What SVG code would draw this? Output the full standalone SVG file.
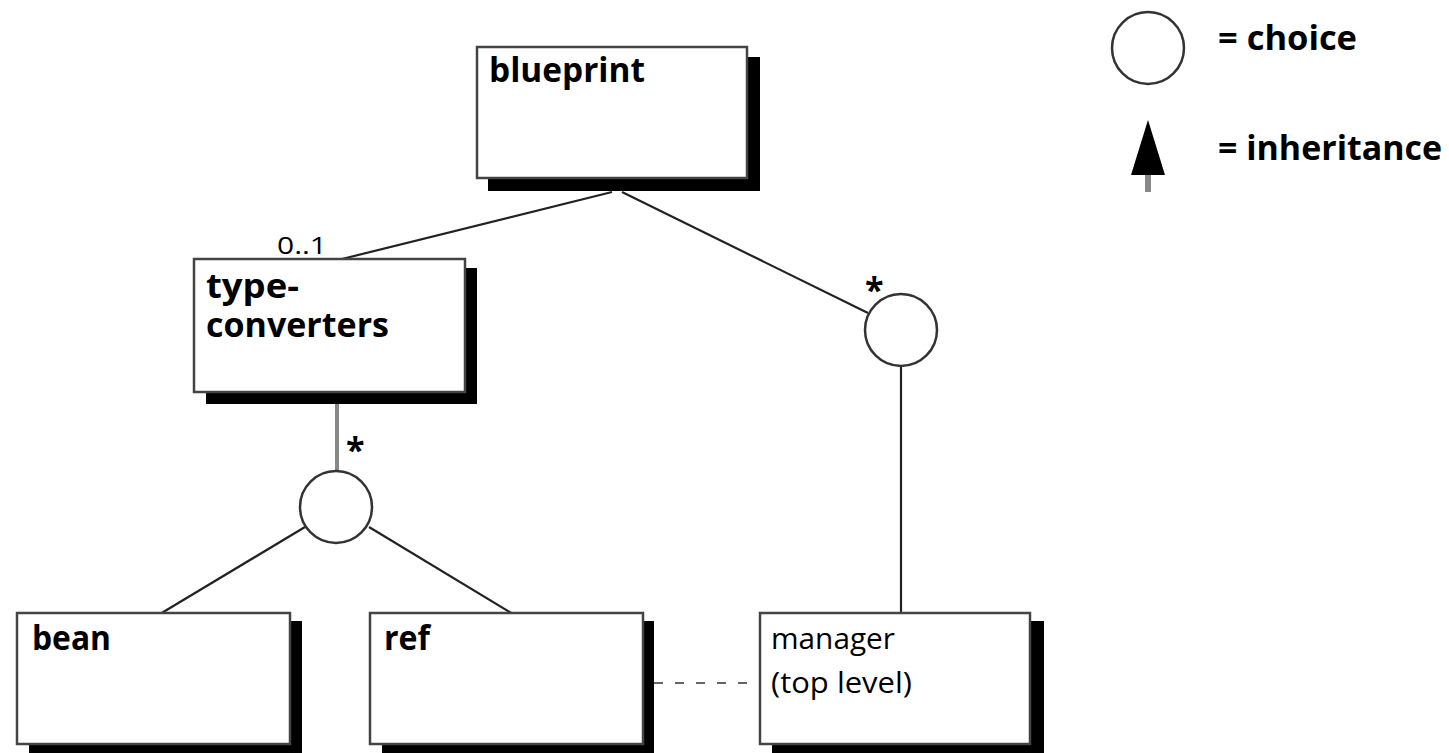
<svg xmlns="http://www.w3.org/2000/svg" width="1449" height="753" viewBox="0 0 1449 753">
  <style>
    .shadow { fill: #000; }
    .box { fill: #fff; stroke: #444; stroke-width: 2.5; }
    .lbl { font-family: "Open Sans", "Noto Sans", sans-serif; font-weight: bold; font-size: 34px; fill: #000; }
    .reg { font-family: "Open Sans", "Noto Sans", sans-serif; font-size: 30px; fill: #000; }
    .small { font-family: "Open Sans", "Noto Sans", sans-serif; font-size: 24px; fill: #000; }
    .link { stroke: #222; stroke-width: 2.2; fill: none; }
    .choice { fill: #fff; stroke: #333; stroke-width: 2.5; }
  </style>

  <!-- connectors -->
  <g id="connectors">
    <line class="link" x1="612" y1="192" x2="338" y2="260"/>
    <line class="link" x1="622" y1="192" x2="868" y2="313"/>
    <line x1="337" y1="403" x2="337" y2="472" stroke="#888" stroke-width="4"/>
    <line class="link" x1="305" y1="527" x2="160" y2="614"/>
    <line class="link" x1="369" y1="527" x2="513" y2="614"/>
    <line class="link" x1="901" y1="366" x2="901" y2="614"/>
    <line x1="654" y1="683" x2="760" y2="683" stroke="#666" stroke-width="2" stroke-dasharray="9 12"/>
    <text class="small" x="277" y="254" textLength="50" lengthAdjust="spacingAndGlyphs">0..1</text>
    <text class="lbl" x="346" y="462" font-size="30">*</text>
    <text class="lbl" x="865" y="302" font-size="30">*</text>
  </g>

  <!-- choice circles -->
  <g id="choice-blueprint">
    <circle class="choice" cx="901" cy="330" r="36"/>
  </g>
  <g id="choice-converters">
    <circle class="choice" cx="336" cy="507" r="36"/>
  </g>

  <g id="blueprint">
    <rect class="shadow" x="488" y="57" width="272" height="134"/>
    <rect class="box" x="477" y="47" width="270" height="131"/>
    <text class="lbl" x="489" y="82" textLength="156" lengthAdjust="spacingAndGlyphs">blueprint</text>
  </g>

  <g id="type-converters">
    <rect class="shadow" x="206" y="268" width="271" height="136"/>
    <rect class="box" x="194" y="259" width="271" height="133"/>
    <text class="lbl" font-size="28">
      <tspan x="206" y="298" textLength="93" lengthAdjust="spacingAndGlyphs">type-</tspan>
      <tspan x="206" y="337" textLength="183" lengthAdjust="spacingAndGlyphs">converters</tspan>
    </text>
  </g>

  <g id="bean">
    <rect class="shadow" x="29" y="621" width="273" height="140"/>
    <rect class="box" x="17" y="613" width="273" height="131"/>
    <text class="lbl" x="32" y="650" textLength="79" lengthAdjust="spacingAndGlyphs">bean</text>
  </g>

  <g id="ref">
    <rect class="shadow" x="382" y="621" width="272" height="140"/>
    <rect class="box" x="370" y="613" width="273" height="131"/>
    <text class="lbl" x="384" y="650" textLength="46" lengthAdjust="spacingAndGlyphs">ref</text>
  </g>

  <g id="manager">
    <rect class="shadow" x="772" y="621" width="272" height="140"/>
    <rect class="box" x="760" y="613" width="270" height="131"/>
    <text class="reg">
      <tspan x="771" y="649" textLength="124" lengthAdjust="spacingAndGlyphs">manager</tspan>
      <tspan x="771" y="693" textLength="141" lengthAdjust="spacingAndGlyphs">(top level)</tspan>
    </text>
  </g>

  <!-- key -->
  <g id="legend">
    <circle class="choice" cx="1148" cy="48" r="36"/>
    <text class="lbl" x="1218" y="50" textLength="139" lengthAdjust="spacingAndGlyphs">= choice</text>
    <line x1="1148" y1="172" x2="1148" y2="192" stroke="#888" stroke-width="6"/>
    <polygon points="1148,120 1165,175 1131,175" fill="#000"/>
    <text class="lbl" x="1218" y="160" textLength="224" lengthAdjust="spacingAndGlyphs">= inheritance</text>
  </g>
</svg>
